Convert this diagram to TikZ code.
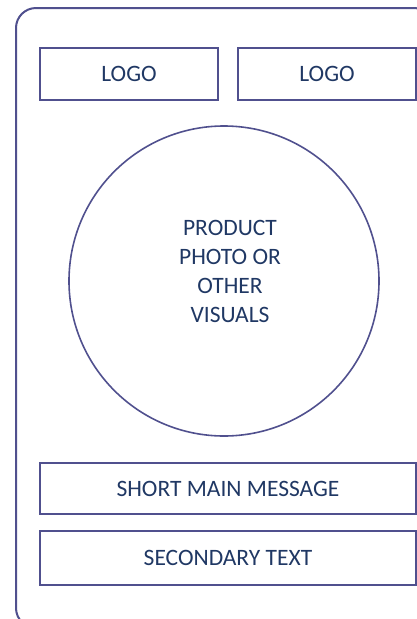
\documentclass[tikz,border=0pt]{standalone}
\usepackage{fontspec}
\setmainfont{Carlito}
\definecolor{edge}{RGB}{80,80,142}
\definecolor{ink}{RGB}{32,56,100}
\begin{document}
\begin{tikzpicture}[x=1pt, y=-1pt,
    panel/.style={draw=edge, line width=2pt, rounded corners=20pt},
    field/.style={draw=edge, line width=1.6pt, text=ink, inner sep=0pt,
        font=\fontsize{23.5}{29}\selectfont, align=center},
    caption/.style={text=ink, font=\fontsize{23.5}{29}\selectfont, align=center}]
    \useasboundingbox (0,0) rectangle (417,619);
    \clip (0,0) rectangle (417,619);
    % outer card, runs off the right and bottom edge
    \draw[panel] (16,8) rectangle (434,628);
    \node[field, minimum width=178pt, minimum height=52pt] (logoLeft) at (129,74) {LOGO};
    \node[field, minimum width=178pt, minimum height=52pt] (logoRight) at (327,74) {LOGO};
    \node[field, circle, minimum size=310pt] (photo) at (224,281) {};
    \node[caption] (photoText) at (230,271) {PRODUCT\\PHOTO OR\\OTHER\\VISUALS};
    \node[field, minimum width=376pt, minimum height=51pt] (mainMsg) at (228,488.5) {SHORT MAIN MESSAGE};
    \node[field, minimum width=376pt, minimum height=54pt] (secondText) at (228,558) {SECONDARY TEXT};
\end{tikzpicture}
\end{document}
